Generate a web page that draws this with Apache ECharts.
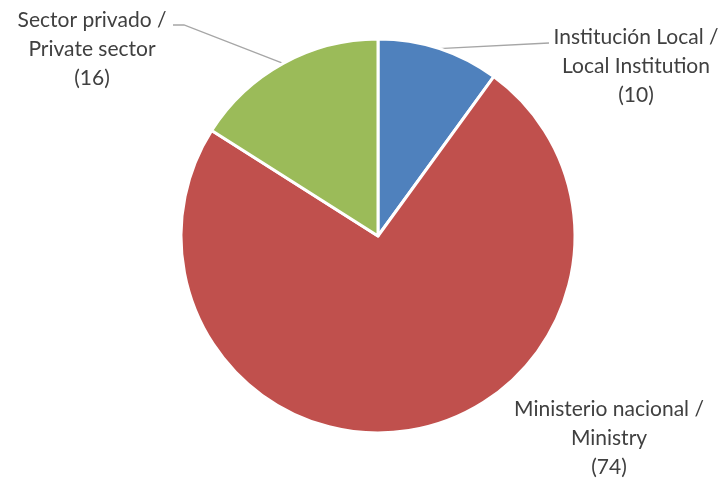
<!DOCTYPE html>
<html>
<head>
<meta charset="utf-8">
<script src="https://cdn.jsdelivr.net/npm/echarts@6/dist/echarts.min.js"></script>
<style>
  html, body { margin: 0; padding: 0; background: #fff; }
  #chart { width: 728px; height: 482px; }
</style>
</head>
<body>
<div id="chart"></div>
<script>
// datos del gráfico
const categories = ['Institución Local /\nLocal Institution', 'Ministerio nacional /\nMinistry', 'Sector privado /\nPrivate sector'];
const values = [10, 74, 16];
const colors = ['#4F81BD', '#C0504D', '#9BBB59'];

// posiciones de etiquetas (centro del bloque de texto)
const labelPos = [[636, 66], [609, 438], [92, 49]];

const chart = echarts.init(document.getElementById('chart'), null, { renderer: 'canvas' });

chart.setOption({
  backgroundColor: '#fff',
  animation: false,
  series: [{
    type: 'pie',
    center: [378, 236],
    radius: 197,
    startAngle: 90,
    clockwise: true,
    itemStyle: { borderColor: '#fff', borderWidth: 3 },
    label: {
      show: true,
      formatter: p => p.name + '\n(' + p.value + ')',
      color: '#404040',
      fontFamily: 'Lato, "Open Sans", sans-serif',
      fontSize: 21,
      lineHeight: 29,
      align: 'center'
    },
    labelLine: { show: true, lineStyle: { color: '#A6A6A6', width: 1.3 } },
    labelLayout: (p) => {
      const [x, y] = labelPos[p.dataIndex];
      const start = p.labelLinePoints ? p.labelLinePoints[0] : [x, y];
      let pts;
      if (p.dataIndex === 0) pts = [start, [549, 43], [549, 43]];
      else if (p.dataIndex === 2) pts = [start, [184, 25], [173, 25]];
      else pts = undefined;
      const out = { x, y, align: 'center', verticalAlign: 'middle' };
      if (pts) out.labelLinePoints = pts;
      return out;
    },
    data: categories.map((name, i) => ({
      name,
      value: values[i],
      itemStyle: { color: colors[i] },
      labelLine: { show: i !== 1 }
    }))
  }]
});
</script>
</body>
</html>
